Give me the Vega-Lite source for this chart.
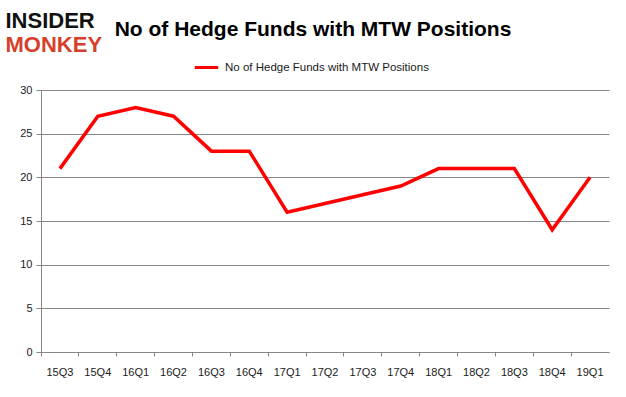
{
  "$schema": "https://vega.github.io/schema/vega-lite/v6.json",
  "autosize": "none",
  "width": 568,
  "height": 262,
  "padding": {"left": 41, "top": 90, "right": 17, "bottom": 45},
  "background": "white",
  "title": {
    "text": "No of Hedge Funds with MTW Positions",
    "font": "Liberation Sans",
    "fontSize": 21,
    "fontWeight": "bold",
    "color": "#000000",
    "anchor": "middle",
    "frame": "group",
    "dx": -12,
    "offset": 0,
    "dy": 31
  },
  "config": {
    "view": {"stroke": null},
    "axis": {
      "labelFont": "Liberation Sans",
      "labelFontSize": 11,
      "labelColor": "#1a1a1a",
      "domainColor": "#868686",
      "tickColor": "#868686",
      "gridColor": "#868686"
    },
    "legend": {"labelFont": "Liberation Sans"}
  },
  "data": {
    "values": [
      {"q": "15Q3", "n": 21, "s": "No of Hedge Funds with MTW Positions"},
      {"q": "15Q4", "n": 27, "s": "No of Hedge Funds with MTW Positions"},
      {"q": "16Q1", "n": 28, "s": "No of Hedge Funds with MTW Positions"},
      {"q": "16Q2", "n": 27, "s": "No of Hedge Funds with MTW Positions"},
      {"q": "16Q3", "n": 23, "s": "No of Hedge Funds with MTW Positions"},
      {"q": "16Q4", "n": 23, "s": "No of Hedge Funds with MTW Positions"},
      {"q": "17Q1", "n": 16, "s": "No of Hedge Funds with MTW Positions"},
      {"q": "17Q2", "n": 17, "s": "No of Hedge Funds with MTW Positions"},
      {"q": "17Q3", "n": 18, "s": "No of Hedge Funds with MTW Positions"},
      {"q": "17Q4", "n": 19, "s": "No of Hedge Funds with MTW Positions"},
      {"q": "18Q1", "n": 21, "s": "No of Hedge Funds with MTW Positions"},
      {"q": "18Q2", "n": 21, "s": "No of Hedge Funds with MTW Positions"},
      {"q": "18Q3", "n": 21, "s": "No of Hedge Funds with MTW Positions"},
      {"q": "18Q4", "n": 14, "s": "No of Hedge Funds with MTW Positions"},
      {"q": "19Q1", "n": 20, "s": "No of Hedge Funds with MTW Positions"}
    ]
  },
  "layer": [
    {
      "mark": {"type": "line", "strokeOpacity": 0},
      "encoding": {
        "x": {
          "field": "q", "type": "ordinal", "sort": null,
          "scale": {"type": "band", "paddingInner": 0, "paddingOuter": 0},
          "axis": {
            "orient": "bottom",
            "title": "MONKEY",
            "titleFont": "Liberation Sans",
            "titleFontSize": 22,
            "titleFontWeight": 900,
            "titleColor": "#d6402b",
            "titleX": -36,
            "titleY": -301,
            "titleAlign": "left",
            "titleBaseline": "alphabetic",
            "titleAnchor": null,
            "labels": false,
            "ticks": true,
            "tickSize": 4,
            "bandPosition": 0,
            "domain": true,
            "grid": false
          }
        },
        "y": {
          "field": "n", "type": "quantitative",
          "scale": {"domain": [0, 30], "nice": false},
          "axis": {
            "orient": "left",
            "title": "INSIDER",
            "titleFont": "Liberation Sans",
            "titleFontSize": 22,
            "titleFontWeight": 900,
            "titleColor": "#111111",
            "titleAngle": 0,
            "titleX": -36,
            "titleY": -63,
            "titleAlign": "left",
            "titleBaseline": "alphabetic",
            "titleAnchor": null,
            "values": [0, 5, 10, 15, 20, 25, 30],
            "grid": true,
            "tickSize": 5,
            "labelPadding": 4,
            "domain": true
          }
        }
      }
    },
    {
      "mark": {"type": "line", "strokeWidth": 3.5, "color": "#ff0000"},
      "encoding": {
        "x": {
          "field": "q", "type": "ordinal", "sort": null,
          "axis": {
            "orient": "bottom",
            "title": null,
            "labelAngle": 0,
            "ticks": false,
            "domain": false,
            "grid": false,
            "labelPadding": 14
          }
        },
        "y": {"field": "n", "type": "quantitative", "axis": null},
        "color": {
          "field": "s", "type": "nominal",
          "scale": {"range": ["#ff0000"]},
          "legend": {
            "title": null,
            "orient": "none",
            "legendX": 152,
            "legendY": -36,
            "symbolType": "stroke",
            "symbolSize": 550,
            "symbolStrokeWidth": 3,
            "labelFontSize": 11.5,
            "labelLimit": 400,
            "labelColor": "#1a1a1a",
            "labelOffset": 5
          }
        }
      }
    }
  ],
  "resolve": {"axis": {"x": "independent", "y": "independent"}}
}
